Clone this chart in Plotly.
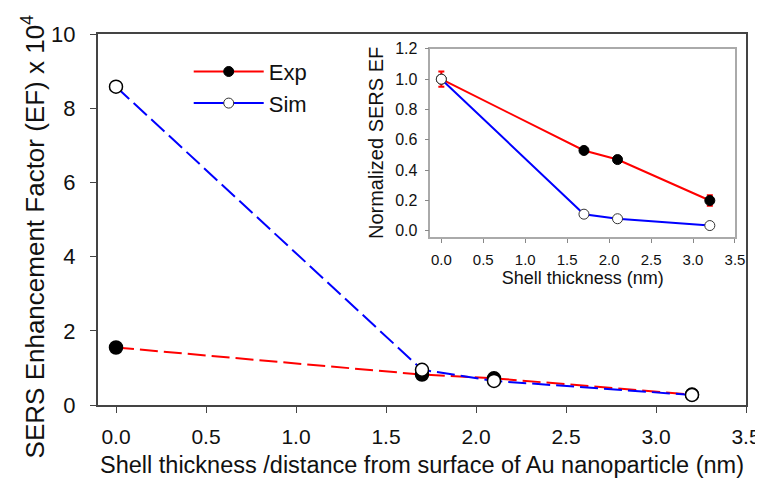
import plotly.graph_objects as go

# Data
thickness = [0.0, 1.7, 2.1, 3.2]
exp_ef = [1.55, 0.82, 0.72, 0.28]
sim_ef = [8.58, 0.95, 0.65, 0.27]
exp_norm = [1.0, 0.53, 0.47, 0.20]
exp_norm_err = [0.05, 0.02, 0.02, 0.035]
sim_norm = [1.0, 0.11, 0.08, 0.035]
series_names = ["Exp", "Sim"]
main_xticks = [0, 0.5, 1, 1.5, 2, 2.5, 3, 3.5]
main_yticks = [0, 2, 4, 6, 8, 10]
inset_yticks = [0, 0.2, 0.4, 0.6, 0.8, 1.0, 1.2]

FONT = "Liberation Sans, Arial, sans-serif"
RED = "#ff0000"
BLUE = "#0000ff"

fig = go.Figure()

# Main plot (dashed)
fig.add_trace(go.Scatter(
    x=thickness, y=exp_ef, name=series_names[0], mode="lines+markers", showlegend=False,
    line=dict(color=RED, width=2, dash="18px,6px"),
    marker=dict(symbol="circle", size=13, color="black", line=dict(color="black", width=1.5)),
    xaxis="x", yaxis="y"))
fig.add_trace(go.Scatter(
    x=thickness, y=sim_ef, name=series_names[1], mode="lines+markers", showlegend=False,
    line=dict(color=BLUE, width=2, dash="18px,6px"),
    marker=dict(symbol="circle", size=13, color="white", line=dict(color="black", width=1.5)),
    xaxis="x", yaxis="y"))

# Legend entries (solid line keys, as in the reference)
fig.add_trace(go.Scatter(
    x=[None], y=[None], name=series_names[0], mode="lines+markers",
    line=dict(color=RED, width=2),
    marker=dict(symbol="circle", size=10, color="black", line=dict(color="black", width=1)),
    xaxis="x", yaxis="y"))
fig.add_trace(go.Scatter(
    x=[None], y=[None], name=series_names[1], mode="lines+markers",
    line=dict(color=BLUE, width=2),
    marker=dict(symbol="circle", size=10, color="white", line=dict(color="#333333", width=1)),
    xaxis="x", yaxis="y"))

# Inset
fig.add_trace(go.Scatter(
    x=thickness, y=exp_norm, name=series_names[0], mode="lines+markers", showlegend=False,
    line=dict(color=RED, width=2),
    marker=dict(symbol="circle", size=10, color="black", line=dict(color="black", width=1)),
    error_y=dict(type="data", array=exp_norm_err, color=RED, thickness=2, width=3),
    xaxis="x2", yaxis="y2"))
fig.add_trace(go.Scatter(
    x=thickness, y=sim_norm, name=series_names[1], mode="lines+markers", showlegend=False,
    line=dict(color=BLUE, width=2),
    marker=dict(symbol="circle", size=10, color="white", line=dict(color="#333333", width=1)),
    xaxis="x2", yaxis="y2"))

axis_common = dict(showgrid=False, zeroline=False, ticks="outside", showline=True,
                   automargin=False)

fig.update_layout(
    width=755, height=470,
    margin=dict(l=90, r=17, t=26, b=73),
    paper_bgcolor="white", plot_bgcolor="white",
    font=dict(family=FONT, color="#111111"),
    xaxis=dict(**axis_common, range=[-0.1, 3.5], tickvals=main_xticks,
               tickformat=".1f", ticklen=6, linewidth=2, mirror=True,
               linecolor="#444444", tickcolor="#444444",
               tickfont=dict(size=21), ticklabelstandoff=6,
               title=dict(text="Shell thickness /distance from surface of Au nanoparticle (nm)",
                          font=dict(size=23.5), standoff=12)),
    yaxis=dict(**axis_common, range=[0, 10], tickvals=main_yticks,
               ticklen=6, linewidth=2, mirror=True, linecolor="#444444", tickcolor="#444444",
               tickfont=dict(size=22), ticklabelstandoff=10),
    xaxis2=dict(**axis_common, domain=[0.513, 0.983], anchor="y2", range=[-0.13, 3.5],
                tickvals=main_xticks, tickformat=".1f", ticklen=4,
                linewidth=1.5, mirror=True, linecolor="#aaaaaa", tickcolor="#888888",
                tickfont=dict(size=15), ticklabelstandoff=4,
                title=dict(text="Shell thickness (nm)", font=dict(size=18), standoff=2)),
    yaxis2=dict(**axis_common, domain=[0.453, 0.960], anchor="x2", range=[-0.04, 1.2],
                tickvals=inset_yticks, tickformat=".1f", ticklen=4,
                linewidth=1.5, mirror=True, linecolor="#aaaaaa", tickcolor="#888888",
                tickfont=dict(size=16), ticklabelstandoff=4,
                title=dict(text="Normalized SERS EF", font=dict(size=20), standoff=6)),
    legend=dict(x=0.14, y=0.955, xanchor="left", yanchor="top", bgcolor="rgba(0,0,0,0)",
                font=dict(size=22), itemwidth=70, tracegroupgap=0),
    showlegend=True,
    annotations=[dict(text="SERS Enhancement Factor (EF) x 10<sup>4</sup>",
                      textangle=-90, xref="paper", yref="paper", x=-0.1, y=0.455,
                      xanchor="center", yanchor="middle", showarrow=False,
                      font=dict(size=26))],
)

fig.write_html("out.html")
